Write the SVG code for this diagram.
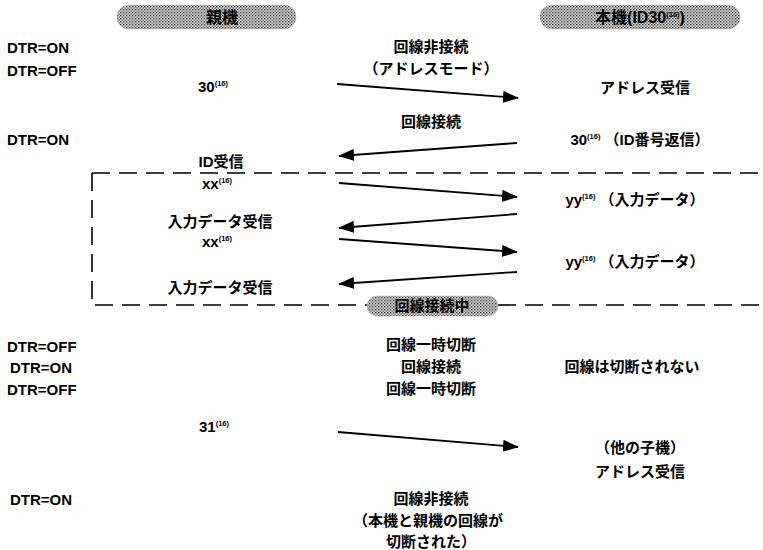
<svg xmlns="http://www.w3.org/2000/svg" width="763" height="550" viewBox="0 0 763 550">
<defs>
<pattern id="dots" width="3" height="3" patternUnits="userSpaceOnUse">
<rect width="3" height="3" fill="#d8d8d8"/>
<rect x="0" y="0" width="1.3" height="1.3" fill="#333"/>
<rect x="1.5" y="1.5" width="1.3" height="1.3" fill="#555"/>
</pattern>
<marker id="ah" markerUnits="userSpaceOnUse" markerWidth="16" markerHeight="12" refX="15" refY="6" orient="auto">
<path d="M0,0 L16,6 L0,12 Z" fill="#000"/>
</marker>
</defs>
<style>
text{font-family:"Liberation Sans","Noto Sans CJK JP",sans-serif;font-weight:bold;font-size:15px;fill:#000}
.c{text-anchor:middle}
.b{font-size:16px}
.sup{font-size:7.5px}
.ban{fill:url(#dots);stroke:#aaa;stroke-width:0.5}
.arr{stroke:#000;stroke-width:1.8;fill:none;marker-end:url(#ah)}
.dash{stroke:#000;stroke-width:1.6;fill:none;stroke-dasharray:18 9}
</style>

<g id="header-parent">
<rect class="ban" x="117" y="5" width="179" height="24" rx="12"/>
<text class="c b" x="222" y="23">親機</text>
</g>
<g id="header-self">
<rect class="ban" x="540" y="5" width="200" height="24" rx="12"/>
<text class="c b" x="640" y="23">本機(ID30<tspan class="sup" dy="-6">(16)</tspan><tspan dy="6">)</tspan></text>
</g>

<g id="dtr-labels">
<text x="7" y="53">DTR=ON</text>
<text x="7" y="76">DTR=OFF</text>
<text x="7" y="145">DTR=ON</text>
<text x="7" y="352">DTR=OFF</text>
<text x="10" y="373">DTR=ON</text>
<text x="7" y="395">DTR=OFF</text>
<text x="10" y="505">DTR=ON</text>
</g>

<g id="step1">
<text class="c" x="431" y="52">回線非接続</text>
<text class="c" x="431" y="74">（アドレスモード）</text>
<text class="c" x="213" y="92">30<tspan class="sup" dy="-6">(16)</tspan></text>
<text class="c" x="645" y="93">アドレス受信</text>
</g>

<g id="step2">
<text class="c" x="431" y="127">回線接続</text>
<text class="c" x="640" y="145">30<tspan class="sup" dy="-6">(16)</tspan><tspan dy="6"> （ID番号返信）</tspan></text>
<text class="c" x="221" y="167">ID受信</text>
</g>

<g id="connected-box">
<path class="dash" d="M92,173 L763,173"/>
<path class="dash" d="M92,173 L92,305 L367,305"/>
<path class="dash" d="M498,305 L763,305"/>
<rect class="ban" x="367" y="296" width="131" height="20" rx="10"/>
<text class="c" x="432" y="311">回線接続中</text>
</g>

<g id="data1">
<text class="c" x="217" y="189">xx<tspan class="sup" dy="-6">(16)</tspan></text>
<text class="c" x="635" y="205">yy<tspan class="sup" dy="-6">(16)</tspan><tspan dy="6"> （入力データ）</tspan></text>
<text class="c" x="220" y="227">入力データ受信</text>
</g>

<g id="data2">
<text class="c" x="217" y="247">xx<tspan class="sup" dy="-6">(16)</tspan></text>
<text class="c" x="635" y="267">yy<tspan class="sup" dy="-6">(16)</tspan><tspan dy="6"> （入力データ）</tspan></text>
<text class="c" x="220" y="293">入力データ受信</text>
</g>

<g id="step-disconnect">
<text class="c" x="431" y="350">回線一時切断</text>
<text class="c" x="431" y="372">回線接続</text>
<text class="c" x="431" y="394">回線一時切断</text>
<text class="c" x="632" y="372">回線は切断されない</text>
</g>

<g id="step-other">
<text class="c" x="214" y="432">31<tspan class="sup" dy="-6">(16)</tspan></text>
<text class="c" x="640" y="453">（他の子機）</text>
<text class="c" x="640" y="477">アドレス受信</text>
</g>

<g id="step-end">
<text class="c" x="431" y="504">回線非接続</text>
<text class="c" x="428" y="526">（本機と親機の回線が</text>
<text class="c" x="431" y="547">切断された）</text>
</g>

<g id="connectors">
<line class="arr" x1="337" y1="84" x2="518" y2="98"/>
<line class="arr" x1="517" y1="143" x2="339" y2="156"/>
<line class="arr" x1="339" y1="183" x2="517" y2="197"/>
<line class="arr" x1="517" y1="214" x2="339" y2="228"/>
<line class="arr" x1="339" y1="239" x2="517" y2="252"/>
<line class="arr" x1="517" y1="272" x2="339" y2="284"/>
<line class="arr" x1="338" y1="432" x2="518" y2="447"/>
</g>
</svg>
